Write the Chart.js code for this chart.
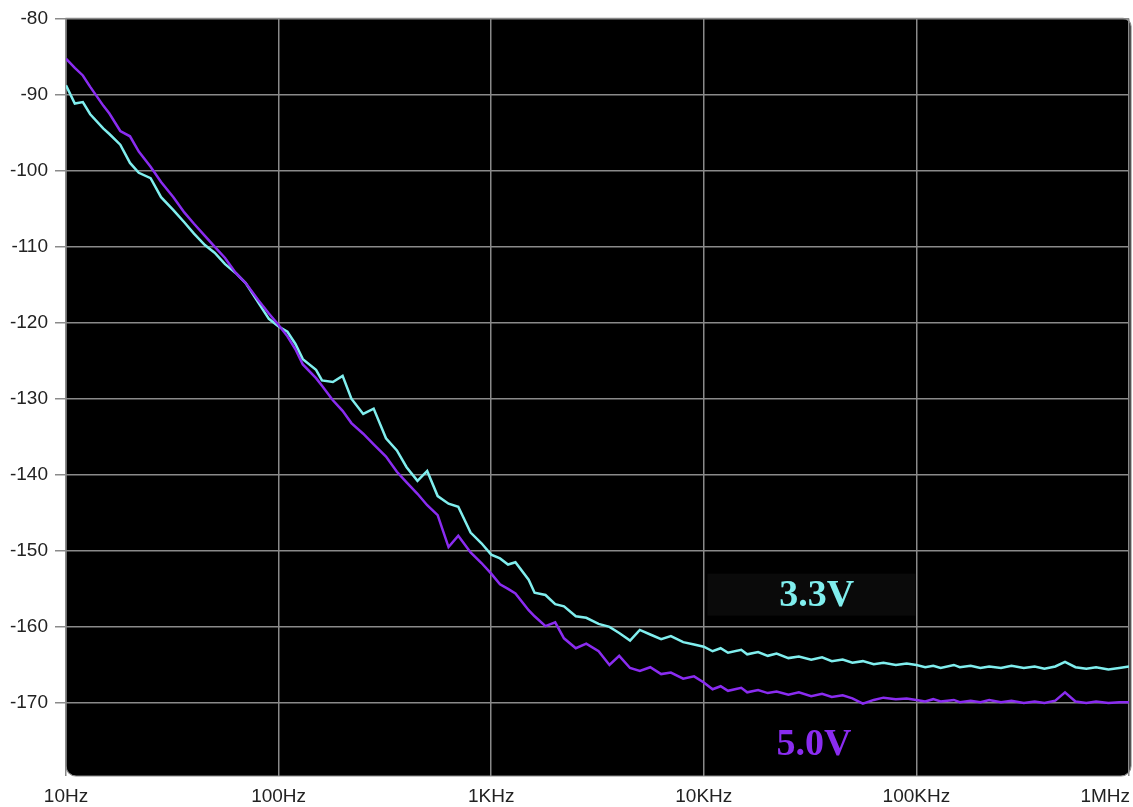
<!DOCTYPE html>
<html>
<head>
<meta charset="utf-8">
<style>
  html, body { margin: 0; padding: 0; background: #fff; }
  #wrap { width: 1133px; height: 807px; }
</style>
<script src="https://cdn.jsdelivr.net/npm/chart.js@4/dist/chart.umd.min.js"></script>
</head>
<body>
<div id="wrap"><canvas id="noiseChart" width="1133" height="807"></canvas></div>
<script>
// frequency points (Hz)
const freqs = [
  10, 11, 12, 13, 15, 16, 18, 20, 22, 25, 28, 32, 36, 40, 45, 50, 56, 63, 70, 80, 90,
  100, 110, 120, 130, 150, 160, 180, 200, 220, 250, 280, 320, 360, 400, 450, 500, 560, 630, 700, 800, 900,
  1000, 1100, 1200, 1300, 1500, 1600, 1800, 2000, 2200, 2500, 2800, 3200, 3600, 4000, 4500, 5000, 5600, 6300, 7000, 8000, 9000,
  10000, 11000, 12000, 13000, 15000, 16000, 18000, 20000, 22000, 25000, 28000, 32000, 36000, 40000, 45000, 50000, 56000, 63000, 70000, 80000, 90000,
  100000, 110000, 120000, 130000, 150000, 160000, 180000, 200000, 220000, 250000, 280000, 320000, 360000, 400000, 450000, 500000, 560000, 630000, 700000, 800000, 900000,
  1000000
];

// noise density, 3.3V supply
const noise33 = [
  -88.8, -91.2, -91.0, -92.6, -94.5, -95.2, -96.6, -99.0, -100.3, -101.0, -103.5, -105.2, -106.8, -108.3, -109.8, -110.8, -112.3, -113.5, -114.8, -117.3, -119.5,
  -120.5, -121.2, -122.8, -124.8, -126.2, -127.6, -127.8, -127.0, -130.0, -132.0, -131.3, -135.2, -136.8, -139.0, -140.8, -139.5, -142.8, -143.8, -144.2, -147.6, -149.0,
  -150.5, -151.0, -151.8, -151.5, -153.8, -155.5, -155.8, -157.0, -157.3, -158.6, -158.8, -159.6, -160.0, -160.8, -161.8, -160.4, -161.0, -161.6, -161.2, -162.0, -162.3,
  -162.6, -163.2, -162.8, -163.4, -163.0, -163.6, -163.3, -163.8, -163.5, -164.1, -163.9, -164.3, -164.0, -164.5, -164.3, -164.7, -164.5, -164.9, -164.7, -165.0, -164.8,
  -165.0, -165.3, -165.1, -165.4, -165.0, -165.3, -165.1, -165.4, -165.2, -165.4, -165.1, -165.4, -165.2, -165.5, -165.2, -164.6, -165.3, -165.5, -165.3, -165.6, -165.4,
  -165.2
];

// noise density, 5.0V supply
const noise50 = [
  -85.3, -86.5, -87.5, -89.0, -91.5, -92.5, -94.8, -95.5, -97.5, -99.5, -101.5, -103.5, -105.5, -107.0, -108.6, -110.0, -111.5, -113.5, -114.8, -117.0, -118.8,
  -120.3, -121.8, -123.5, -125.5, -127.3, -128.3, -130.2, -131.6, -133.2, -134.6, -136.0, -137.6, -139.6, -141.0, -142.5, -144.0, -145.3, -149.5, -148.0, -150.2, -151.6,
  -153.0, -154.4, -155.0, -155.6, -157.8, -158.6, -159.9, -159.4, -161.5, -162.8, -162.2, -163.2, -165.0, -163.8, -165.4, -165.8, -165.3, -166.2, -166.0, -166.8, -166.5,
  -167.3, -168.2, -167.8, -168.4, -168.0, -168.6, -168.3, -168.7, -168.5, -168.9, -168.6, -169.1, -168.8, -169.2, -169.0, -169.4, -170.1, -169.6, -169.3, -169.5, -169.4,
  -169.6, -169.8, -169.5, -169.8, -169.6, -169.9, -169.7, -169.9, -169.6, -169.9, -169.7, -170.0, -169.8, -170.0, -169.7, -168.6, -169.8, -170.0, -169.8, -170.0, -169.9,
  -169.9
];

const xTickValues = [10, 100, 1000, 10000, 100000, 1000000];
const xTickLabels = ["10Hz", "100Hz", "1KHz", "10KHz", "100KHz", "1MHz"];

const seriesNames = ["3.3V", "5.0V"];
const seriesColors = ["#80eeee", "#8a2cf0"];
// where the series names sit, in chart units
const nameFreqs = [34000, 33000];
const nameLevels = [-155.9, -175.5];

const plotBg = {
  id: "plotBg",
  beforeDraw(chart) {
    const { ctx, chartArea: a } = chart;
    ctx.save();
    ctx.beginPath();
    ctx.roundRect(a.left, a.top, a.right - a.left + 2, a.bottom - a.top, [0, 8, 10, 10]);
    ctx.fillStyle = "#000";
    ctx.fill();
    ctx.strokeStyle = "#8a8a8a";
    ctx.lineWidth = 1.2;
    ctx.stroke();
    // faint box behind the 3.3V name
    ctx.fillStyle = "#0a0a0a";
    ctx.fillRect(chart.scales.x.getPixelForValue(10400), chart.scales.y.getPixelForValue(-153.0),
      chart.scales.x.getPixelForValue(99000) - chart.scales.x.getPixelForValue(10400), 42);
    ctx.restore();
  }
};

const seriesNamesPlugin = {
  id: "seriesNames",
  afterDatasetsDraw(chart) {
    const { ctx } = chart;
    const x = chart.scales.x, y = chart.scales.y;
    ctx.save();
    ctx.font = "bold 38px 'Liberation Serif', 'Times New Roman', serif";
    ctx.textAlign = "center";
    ctx.textBaseline = "middle";
    seriesNames.forEach((name, i) => {
      ctx.fillStyle = seriesColors[i];
      ctx.fillText(name, x.getPixelForValue(nameFreqs[i]), y.getPixelForValue(nameLevels[i]));
    });
    ctx.restore();
  }
};

const ctx = document.getElementById("noiseChart").getContext("2d");
new Chart(ctx, {
  type: "line",
  data: {
    labels: freqs,
    datasets: [
      {
        label: seriesNames[1],
        data: freqs.map((f, i) => ({ x: f, y: noise50[i] })),
        borderColor: seriesColors[1],
        borderWidth: 2.5,
        pointRadius: 0,
        tension: 0,
        fill: false,
      },
      {
        label: seriesNames[0],
        data: freqs.map((f, i) => ({ x: f, y: noise33[i] })),
        borderColor: seriesColors[0],
        borderWidth: 2.5,
        pointRadius: 0,
        tension: 0,
        fill: false,
      },
    ],
  },
  options: {
    responsive: false,
    animation: false,
    layout: { padding: { top: 17, right: 4, left: 0, bottom: 0 } },
    plugins: {
      legend: { display: false },
      tooltip: { enabled: false },
    },
    scales: {
      x: {
        type: "logarithmic",
        min: 10,
        max: 1000000,
        afterBuildTicks: (scale) => {
          scale.ticks = xTickValues.map((v) => ({ value: v }));
        },
        afterFit: (scale) => {
          scale.height = 31;
          scale.paddingLeft = 0;
          scale.paddingRight = 0;
        },
        grid: { color: "#8a8a8a", lineWidth: 1.5, drawTicks: false },
        border: { display: false },
        ticks: {
          autoSkip: false,
          maxRotation: 0,
          padding: 9,
          color: "#222",
          font: { family: "'Liberation Sans', Arial, sans-serif", size: 19 },
          callback: (v, i) => {
            const label = xTickLabels[xTickValues.indexOf(v)] || "";
            // last label sits left of its grid line
            return i === xTickValues.length - 1 ? label + "         " : label;
          },
        },
      },
      y: {
        min: -179.6,
        max: -80,
        afterBuildTicks: (scale) => {
          scale.ticks = scale.ticks.filter((t) => Math.abs(t.value % 10) < 0.001);
        },
        afterFit: (scale) => {
          scale.width = 66;
        },
        grid: { color: "#8a8a8a", lineWidth: 1.5, tickLength: 11 },
        border: { display: false },
        ticks: {
          stepSize: 10,
          padding: 7,
          color: "#222",
          font: { family: "'Liberation Sans', Arial, sans-serif", size: 19 },
        },
      },
    },
  },
  plugins: [plotBg, seriesNamesPlugin],
});
</script>
</body>
</html>
